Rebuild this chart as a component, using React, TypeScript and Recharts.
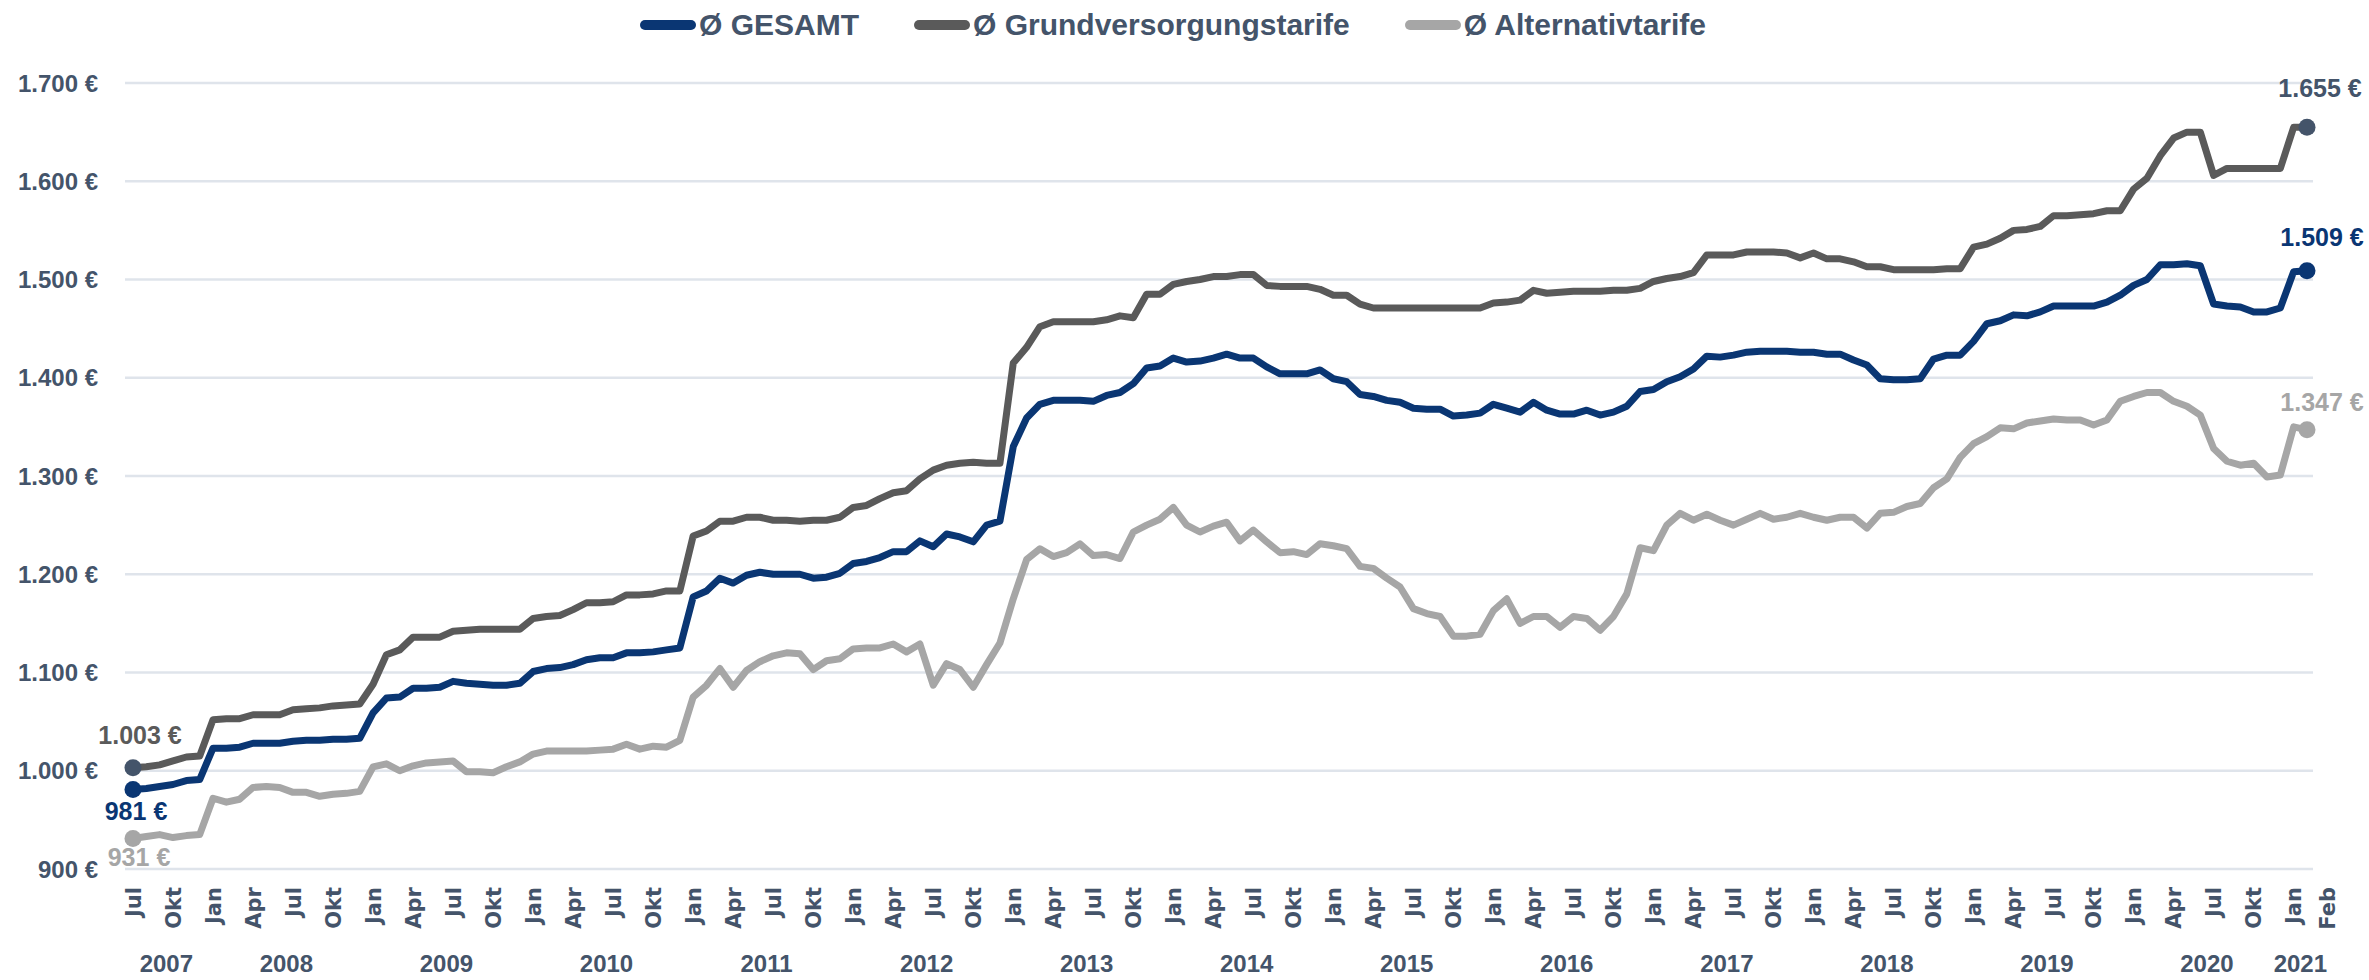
import { LineChart, Line, XAxis, YAxis, CartesianGrid } from 'recharts'

const MONTHS = ['Jan', 'Feb', 'Mär', 'Apr', 'Mai', 'Jun', 'Jul', 'Aug', 'Sep', 'Okt', 'Nov', 'Dez']
const START_YEAR = 2007
const START_MONTH = 6 // Jul 2007

// monthly values, Jul 2007 .. Feb 2021
const gesamt = [
  981, 982, 984, 986, 990, 991, 1023, 1023, 1024, 1028, 1028, 1028,
  1030, 1031, 1031, 1032, 1032, 1033, 1059, 1074, 1075, 1084, 1084, 1085,
  1091, 1089, 1088, 1087, 1087, 1089, 1101, 1104, 1105, 1108, 1113, 1115,
  1115, 1120, 1120, 1121, 1123, 1125, 1177, 1183, 1196, 1191, 1199, 1202,
  1200, 1200, 1200, 1196, 1197, 1201, 1211, 1213, 1217, 1223, 1223, 1234,
  1228, 1241, 1238, 1233, 1250, 1254, 1330, 1359, 1373, 1377, 1377, 1377,
  1376, 1382, 1385, 1394, 1410, 1412, 1420, 1416, 1417, 1420, 1424, 1420,
  1420, 1411, 1404, 1404, 1404, 1408, 1399, 1396, 1383, 1381, 1377, 1375,
  1369, 1368, 1368, 1361, 1362, 1364, 1373, 1369, 1365, 1375, 1367, 1363,
  1363, 1367, 1362, 1365, 1371, 1386, 1388, 1396, 1401, 1409, 1422, 1421,
  1423, 1426, 1427, 1427, 1427, 1426, 1426, 1424, 1424, 1418, 1413, 1399,
  1398, 1398, 1399, 1419, 1423, 1423, 1437, 1455, 1458, 1464, 1463, 1467,
  1473, 1473, 1473, 1473, 1477, 1484, 1494, 1500, 1515, 1515, 1516, 1514,
  1475, 1473, 1472, 1467, 1467, 1471, 1508, 1509,
]

const grundversorgung = [
  1003, 1004, 1006, 1010, 1014, 1015, 1052, 1053, 1053, 1057, 1057, 1057,
  1062, 1063, 1064, 1066, 1067, 1068, 1088, 1118, 1123, 1136, 1136, 1136,
  1142, 1143, 1144, 1144, 1144, 1144, 1155, 1157, 1158, 1164, 1171, 1171,
  1172, 1179, 1179, 1180, 1183, 1183, 1239, 1244, 1254, 1254, 1258, 1258,
  1255, 1255, 1254, 1255, 1255, 1258, 1268, 1270, 1277, 1283, 1285, 1297,
  1306, 1311, 1313, 1314, 1313, 1313, 1415, 1431, 1452, 1457, 1457, 1457,
  1457, 1459, 1463, 1461, 1485, 1485, 1495, 1498, 1500, 1503, 1503, 1505,
  1505, 1494, 1493, 1493, 1493, 1490, 1484, 1484, 1475, 1471, 1471, 1471,
  1471, 1471, 1471, 1471, 1471, 1471, 1476, 1477, 1479, 1489, 1486, 1487,
  1488, 1488, 1488, 1489, 1489, 1491, 1498, 1501, 1503, 1507, 1525, 1525,
  1525, 1528, 1528, 1528, 1527, 1522, 1527, 1521, 1521, 1518, 1513, 1513,
  1510, 1510, 1510, 1510, 1511, 1511, 1533, 1536, 1542, 1550, 1551, 1554,
  1565, 1565, 1566, 1567, 1570, 1570, 1592, 1603, 1626, 1644, 1650, 1650,
  1606, 1613, 1613, 1613, 1613, 1613, 1655, 1655,
]

const alternativ = [
  931, 933, 935, 932, 934, 935, 972, 968, 971, 983, 984, 983,
  978, 978, 974, 976, 977, 979, 1004, 1007, 1000, 1005, 1008, 1009,
  1010, 999, 999, 998, 1004, 1009, 1017, 1020, 1020, 1020, 1020, 1021,
  1022, 1027, 1022, 1025, 1024, 1031, 1075, 1087, 1104, 1085, 1102, 1111,
  1117, 1120, 1119, 1103, 1112, 1114, 1124, 1125, 1125, 1129, 1121, 1129,
  1087, 1109, 1103, 1085, 1108, 1130, 1175, 1215, 1226, 1218, 1222, 1231,
  1219, 1220, 1216, 1243, 1250, 1256, 1268, 1250, 1243, 1249, 1253, 1234,
  1245, 1233, 1222, 1223, 1220, 1231, 1229, 1226, 1208, 1206, 1196, 1187,
  1165, 1160, 1157, 1137, 1137, 1139, 1163, 1175, 1150, 1157, 1157, 1146,
  1157, 1155, 1143, 1157, 1180, 1227, 1224, 1250, 1262, 1255, 1261, 1255,
  1250, 1256, 1262, 1256, 1258, 1262, 1258, 1255, 1258, 1258, 1247, 1262,
  1263, 1269, 1272, 1288, 1297, 1319, 1333, 1340, 1349, 1348, 1354, 1356,
  1358, 1357, 1357, 1352, 1357, 1376, 1381, 1385, 1385, 1376, 1371, 1362,
  1328, 1315, 1311, 1313, 1299, 1301, 1350, 1347,
]

const yTicks = [900, 1000, 1100, 1200, 1300, 1400, 1500, 1600, 1700]

const BLUE = '#0a3673'
const DARK = '#5a5a5a'
const LIGHT = '#a6a6a6'
const SLATE = '#44546a'
const FONT = "'Liberation Sans', Arial, sans-serif"
const MONTH_FONT = "'DejaVu Sans', sans-serif"

const data = gesamt.map((v, i) => ({
  m: i,
  gesamt: v,
  grund: grundversorgung[i],
  alt: alternativ[i],
}))
const last = data.length - 1

const monthTicks = data.filter((d) => d.m % 3 === 0 || d.m === last).map((d) => d.m)

const yearOf = (m: number) => START_YEAR + Math.floor((START_MONTH + m) / 12)
const yearTicks: number[] = []
for (let y = yearOf(0); y <= yearOf(last); y++) {
  const idx = data.filter((d) => yearOf(d.m) === y).map((d) => d.m)
  yearTicks.push((idx[0] + idx[idx.length - 1]) / 2)
}

const euro = (v: number) => `${String(v).replace(/\B(?=(\d{3})+(?!\d))/g, '.')} €`

function MonthTick({ x, y, payload }: any) {
  const label = MONTHS[(START_MONTH + payload.value) % 12]
  // last label (Feb) sits right next to Jan, nudged so they don't collide
  const tx = payload.value === last ? x + 20 : x
  const ty = y + 18
  return (
    <text
      x={tx}
      y={ty}
      dy="0.36em"
      transform={`rotate(-90, ${tx}, ${ty})`}
      textAnchor="end"
      fill={SLATE}
      fontFamily={MONTH_FONT}
      fontWeight={700}
      fontSize={21}
    >
      {label}
    </text>
  )
}

function YearTick({ x, y, payload }: any) {
  return (
    <text x={x} y={y + 19} dominantBaseline="central" textAnchor="middle" fill={SLATE}
      fontFamily={FONT} fontWeight={700} fontSize={24}>
      {yearOf(Math.floor(payload.value))}
    </text>
  )
}

type End = { dx: number; dy: number; color: string }

function endDots(dotColor: string, start: End, end: End) {
  return (p: any) => {
    const { cx, cy, index, value } = p
    if (index !== 0 && index !== last) return <g key={index} />
    const l = index === 0 ? start : end
    return (
      <g key={index}>
        <circle cx={cx} cy={cy} r={8.5} fill={dotColor} />
        <text x={cx + l.dx} y={cy + l.dy} textAnchor="middle" dominantBaseline="central"
          fill={l.color} fontFamily={FONT} fontWeight={700} fontSize={25}>
          {euro(value)}
        </text>
      </g>
    )
  }
}

const legendItems = [
  { name: 'Ø GESAMT', color: BLUE },
  { name: 'Ø Grundversorgungstarife', color: DARK },
  { name: 'Ø Alternativtarife', color: LIGHT },
]

export default function App() {
  return (
    <div style={{ position: 'relative', width: 2369, height: 980, background: '#fff' }}>
      <style>{'body{margin:0}'}</style>
      <div
        style={{
          position: 'absolute', left: 640, top: 8, display: 'flex', gap: 55,
          alignItems: 'center', fontFamily: FONT, fontWeight: 700, fontSize: 30, color: SLATE,
        }}
      >
        {legendItems.map((it) => (
          <div key={it.name} style={{ display: 'flex', alignItems: 'center', gap: 3 }}>
            <span style={{ display: 'inline-block', width: 56, height: 10, borderRadius: 5, background: it.color }} />
            <span>{it.name}</span>
          </div>
        ))}
      </div>
      <LineChart width={2369} height={980} data={data} margin={{ top: 83, right: 56, left: 0, bottom: 0 }}>
        <CartesianGrid vertical={false} stroke="#dfe4eb" strokeWidth={2.5} />
        <XAxis
          xAxisId="m" dataKey="m" type="number" domain={[0, last]} ticks={monthTicks} interval={0}
          padding={{ left: 8, right: 6 }} height={75} axisLine={false} tickLine={false}
          tickSize={0} tickMargin={0} tick={<MonthTick />}
        />
        <XAxis
          xAxisId="y" dataKey="m" type="number" domain={[0, last]} ticks={yearTicks} interval={0}
          padding={{ left: 8, right: 6 }} height={36} axisLine={false} tickLine={false}
          tickSize={0} tickMargin={0} tick={<YearTick />}
        />
        <YAxis
          domain={[900, 1700]} ticks={yTicks} width={125} axisLine={false} tickLine={false}
          tickSize={0} tickMargin={27} tickFormatter={euro} interval={0}
          tick={{ fill: SLATE, fontSize: 24, fontWeight: 700, fontFamily: FONT }}
        />
        <Line
          xAxisId="m" dataKey="alt" stroke={LIGHT} strokeWidth={7} strokeLinejoin="round"
          isAnimationActive={false} activeDot={false}
          dot={endDots(LIGHT, { dx: 6, dy: 18, color: LIGHT }, { dx: 15, dy: -28, color: LIGHT })}
        />
        <Line
          xAxisId="m" dataKey="grund" stroke={DARK} strokeWidth={7} strokeLinejoin="round"
          isAnimationActive={false} activeDot={false}
          dot={endDots(SLATE, { dx: 7, dy: -33, color: DARK }, { dx: 13, dy: -39, color: SLATE })}
        />
        <Line
          xAxisId="m" dataKey="gesamt" stroke={BLUE} strokeWidth={7} strokeLinejoin="round"
          isAnimationActive={false} activeDot={false}
          dot={endDots(BLUE, { dx: 3, dy: 22, color: BLUE }, { dx: 15, dy: -34, color: BLUE })}
        />
      </LineChart>
    </div>
  )
}
